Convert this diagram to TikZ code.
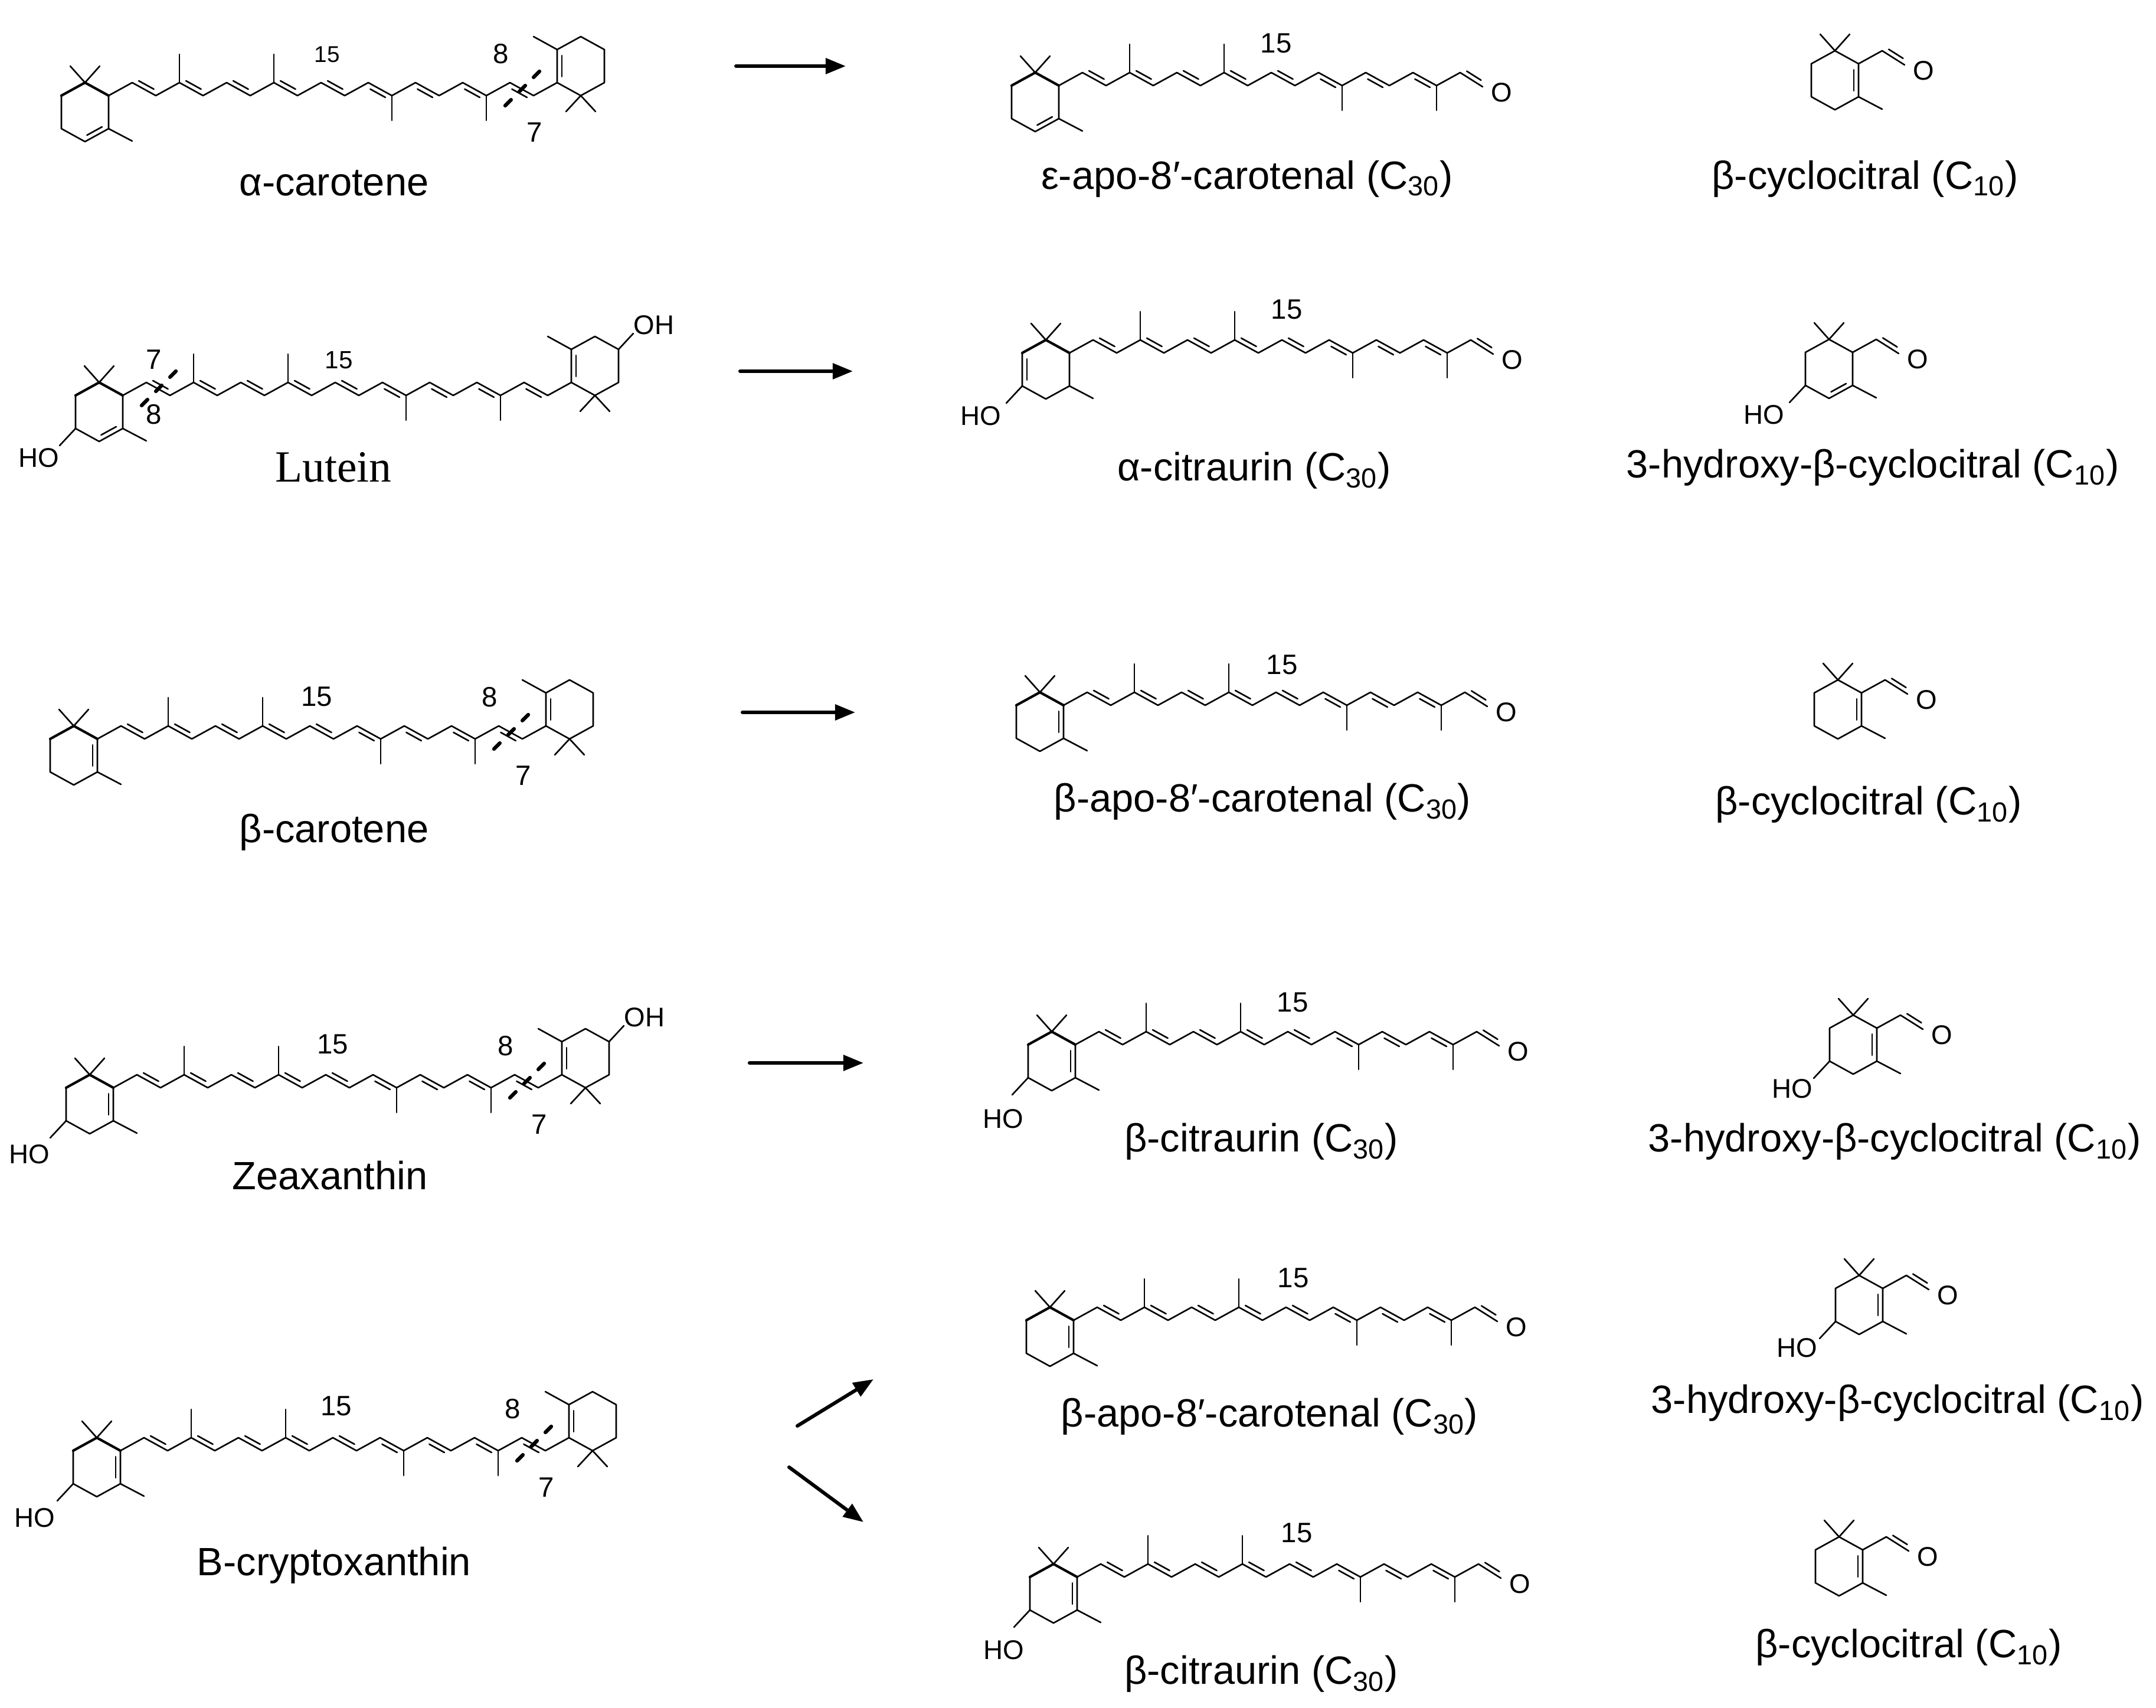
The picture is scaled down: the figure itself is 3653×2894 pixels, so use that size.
\documentclass[tikz,border=0pt]{standalone}
\usepackage{fontspec}
\setmainfont{Liberation Sans}
\newfontfamily\timesfont{Liberation Serif}
\usetikzlibrary{calc,arrows.meta}

\def\hx{40}\def\hy{22}\def\rw{80}\def\rd{22}\def\rv{56}\def\mup{48}\def\mdn{42}\def\dsep{0.08cm}

\newcommand{\polyene}[1]{%
  \foreach \i in {0,...,#1}{\coordinate (c\i) at ({\i*\hx},{-\hy*mod(\i,2)});}%
  \draw (c0) \foreach \i in {1,...,#1}{ -- (c\i)};}
\newcommand{\dup}[2]{\draw ($(#1)!0.18!(#2)!\dsep!90:(#2)$) -- ($(#2)!0.18!(#1)!\dsep!-90:(#1)$);}
\newcommand{\ddn}[2]{\draw ($(#1)!0.18!(#2)!\dsep!-90:(#2)$) -- ($(#2)!0.18!(#1)!\dsep!90:(#1)$);}
\newcommand{\methyls}{\draw (c3) -- ++(0,-\mup) (c7) -- ++(0,-\mup) (c12) -- ++(0,\mdn) (c16) -- ++(0,\mdn);}
\newcommand{\chaindbl}{\dup{c1}{c2}\dup{c3}{c4}\dup{c5}{c6}\dup{c7}{c8}\dup{c9}{c10}\ddn{c11}{c12}\ddn{c13}{c14}\ddn{c15}{c16}}
\newcommand{\aldehyde}[1]{%
  \coordinate (cO) at ($(c#1)+(38,24)$);
  \draw (c#1) -- (cO); \dup{c#1}{cO}
  \node[atom] (oxy) at ($(c#1)+(70,34)$) {O};}
\newcommand{\ringL}[1]{%
  \coordinate (r6) at (c0);
  \coordinate (r1) at ({-\rw/2},{-\rd});
  \coordinate (r2) at ({-\rw},0);
  \coordinate (r3) at ({-\rw},\rv);
  \coordinate (r4) at ({-\rw/2},{\rv+\rd});
  \coordinate (r5) at (0,\rv);
  \draw (r2) -- (r3) -- (r4) -- (r5) -- (r6);
  \draw[#1] (r2) -- (r1) -- (r6);
  \draw (r1) -- ++(-25,-28) (r1) -- ++(25,-28) (r5) -- ++(40,21);}
\newcommand{\ringR}[1]{%
  \coordinate (s6) at (c#1);
  \coordinate (s5) at ($(s6)+(0,-\rv)$);
  \coordinate (s4) at ($(s6)+({\rw/2},{-\rv-\rd})$);
  \coordinate (s3) at ($(s6)+(\rw,-\rv)$);
  \coordinate (s2) at ($(s6)+(\rw,0)$);
  \coordinate (s1) at ($(s6)+({\rw/2},\rd)$);
  \draw (s6) -- (s5) -- (s4) -- (s3) -- (s2) -- (s1) -- cycle;
  \dup{s5}{s6}
  \draw (s5) -- ++(-40,-22) (s1) -- ++(-25,27) (s1) -- ++(25,27);}
\newcommand{\hoL}[2]{\draw (r3) -- ++(-27,29); \node[atom] (ho) at ($(r3)+(#1,#2)$) {HO};}
\newcommand{\ohR}{\draw (s3) -- ++(25,-27); \node[atom] (oh) at ($(s3)+(60,-41)$) {OH};}
\newcommand{\cutbond}[2]{\coordinate (cm) at ($(#1)!0.5!(#2)$);
  \draw[cutline] ($(cm)+(30,-30)$) -- ($(cm)+(-30,30)$);}

\begin{document}
\begin{tikzpicture}[x=0.01cm, y=-0.01cm, line width=0.75pt, line cap=round, line join=round,
  heavy/.style={line width=1.2pt},
  thin/.style={},
  cutline/.style={line width=1.8pt, dash pattern=on 0.14cm off 0.2cm},
  atom/.style={inner sep=0pt, font=\fontsize{13}{15}\selectfont},
  num/.style={inner sep=0pt, font=\fontsize{13.5}{16}\selectfont},
  lbl/.style={inner sep=0pt, font=\fontsize{19}{22}\selectfont},
  arr/.style={line width=1.7pt, -{Triangle[length=0.34cm,width=0.26cm]}}]
\useasboundingbox[fill=white] (0,0) rectangle (3653,2894);

\begin{scope}[shift={(184,162)}]
  \polyene{19} \methyls \chaindbl \ddn{c17}{c18}
  \ringL{heavy} \dup{r4}{r5}
  \ringR{19}
  \cutbond{c17}{c18}
  \node[num, font=\fontsize{11}{13}\selectfont] (n15a) at ($(c9)+(10,-48)$) {15};
  \node[num] (n8a) at ($(cm)+(-35,-60)$) {8};
  \node[num] (n7a) at ($(cm)+(22,73)$) {7};
\end{scope}
\begin{scope}[shift={(1794,145)}]
  \polyene{17} \methyls \chaindbl \aldehyde{17}
  \ringL{heavy} \dup{r4}{r5}
  \node[num] (n15b) at ($(c9)+(8,-50)$) {15};
\end{scope}
\begin{scope}[shift={(3149,108)}]
  \polyene{1} \aldehyde{1}
  \ringL{thin} \dup{r5}{r6}
\end{scope}

\begin{scope}[shift={(208,670)}]
  \polyene{19} \methyls \chaindbl \ddn{c17}{c18}
  \ringL{heavy} \dup{r4}{r5} \hoL{-62}{50}
  \ringR{19} \ohR
  \cutbond{c1}{c2}
  \node[num, font=\fontsize{12}{14}\selectfont] (n15c) at ($(c9)+(6,-38)$) {15};
  \node[num] (n7c) at ($(cm)+(-7,-50)$) {7};
  \node[num] (n8c) at ($(cm)+(-7,43)$) {8};
\end{scope}
\begin{scope}[shift={(1812,598)}]
  \polyene{17} \methyls \chaindbl \aldehyde{17}
  \ringL{heavy} \dup{r2}{r3} \hoL{-70}{51}
  \node[num] (n15d) at ($(c9)+(8,-52)$) {15};
\end{scope}
\begin{scope}[shift={(3139,597)}]
  \polyene{1} \aldehyde{1}
  \ringL{thin} \dup{r4}{r5} \hoL{-70}{50}
\end{scope}

\begin{scope}[shift={(165,1252)}]
  \polyene{19} \methyls \chaindbl \ddn{c17}{c18}
  \ringL{heavy} \dup{r5}{r6}
  \ringR{19}
  \cutbond{c17}{c18}
  \node[num] (n15e) at ($(c9)+(12,-50)$) {15};
  \node[num] (n8e) at ($(cm)+(-35,-60)$) {8};
  \node[num] (n7e) at ($(cm)+(22,73)$) {7};
\end{scope}
\begin{scope}[shift={(1802,1195)}]
  \polyene{17} \methyls \chaindbl \aldehyde{17}
  \ringL{heavy} \dup{r5}{r6}
  \node[num] (n15f) at ($(c9)+(10,-47)$) {15};
\end{scope}
\begin{scope}[shift={(3154,1174)}]
  \polyene{1} \aldehyde{1}
  \ringL{thin} \dup{r5}{r6}
\end{scope}

\begin{scope}[shift={(192,1843)}]
  \polyene{19} \methyls \chaindbl \ddn{c17}{c18}
  \ringL{heavy} \dup{r5}{r6} \hoL{-62}{57}
  \ringR{19} \ohR
  \cutbond{c17}{c18}
  \node[num] (n15g) at ($(c9)+(12,-52)$) {15};
  \node[num] (n8g) at ($(cm)+(-35,-60)$) {8};
  \node[num] (n7g) at ($(cm)+(22,73)$) {7};
\end{scope}
\begin{scope}[shift={(1822,1770)}]
  \polyene{17} \methyls \chaindbl \aldehyde{17}
  \ringL{heavy} \dup{r5}{r6} \hoL{-42}{70}
  \node[num] (n15h) at ($(c9)+(8,-50)$) {15};
\end{scope}
\begin{scope}[shift={(3180,1742)}]
  \polyene{1} \aldehyde{1}
  \ringL{thin} \dup{r5}{r6} \hoL{-63}{47}
\end{scope}

\begin{scope}[shift={(204,2458)}]
  \polyene{19} \methyls \chaindbl \ddn{c17}{c18}
  \ringL{heavy} \dup{r5}{r6} \hoL{-65}{58}
  \ringR{19}
  \cutbond{c17}{c18}
  \node[num] (n15i) at ($(c9)+(6,-54)$) {15};
  \node[num] (n8i) at ($(cm)+(-35,-60)$) {8};
  \node[num] (n7i) at ($(cm)+(22,73)$) {7};
\end{scope}
\begin{scope}[shift={(1819,2237)}]
  \polyene{17} \methyls \chaindbl \aldehyde{17}
  \ringL{heavy} \dup{r5}{r6}
  \node[num] (n15j) at ($(c9)+(12,-50)$) {15};
\end{scope}
\begin{scope}[shift={(1825,2672)}]
  \polyene{17} \methyls \chaindbl \aldehyde{17}
  \ringL{heavy} \dup{r5}{r6} \hoL{-44}{68}
  \node[num] (n15k) at ($(c9)+(12,-53)$) {15};
\end{scope}
\begin{scope}[shift={(3190,2183)}]
  \polyene{1} \aldehyde{1}
  \ringL{thin} \dup{r5}{r6} \hoL{-65}{45}
\end{scope}
\begin{scope}[shift={(3156,2626)}]
  \polyene{1} \aldehyde{1}
  \ringL{thin} \dup{r5}{r6}
\end{scope}

\node[lbl] (acar) at (566,310) {α-carotene};
\node[lbl] (eapo) at (2113,303) {ε-apo-8′-carotenal (C\textsubscript{30})};
\node[lbl] (cyc1) at (3160,303) {β-cyclocitral (C\textsubscript{10})};
\node[lbl, font=\timesfont\fontsize{21.5}{25}\selectfont] (lut) at (565,792) {Lutein};
\node[lbl] (acit) at (2125,797) {α-citraurin (C\textsubscript{30})};
\node[lbl] (hcyc1) at (3173,792) {3-hydroxy-β-cyclocitral (C\textsubscript{10})};
\node[lbl] (bcar) at (566,1410) {β-carotene};
\node[lbl] (bapo1) at (2139,1358) {β-apo-8′-carotenal (C\textsubscript{30})};
\node[lbl] (cyc2) at (3166,1363) {β-cyclocitral (C\textsubscript{10})};
\node[lbl] (zea) at (559,1992) {Zeaxanthin};
\node[lbl] (bcit1) at (2137,1934) {β-citraurin (C\textsubscript{30})};
\node[lbl] (hcyc2) at (3210,1934) {3-hydroxy-β-cyclocitral (C\textsubscript{10})};
\node[lbl] (bcry) at (566,2652) {B-cryptoxanthin};
\node[lbl] (bapo2) at (2151,2400) {β-apo-8′-carotenal (C\textsubscript{30})};
\node[lbl] (hcyc3) at (3215,2377) {3-hydroxy-β-cyclocitral (C\textsubscript{10})};
\node[lbl] (bcit2) at (2137,2836) {β-citraurin (C\textsubscript{30})};
\node[lbl] (cyc3) at (3234,2791) {β-cyclocitral (C\textsubscript{10})};

\coordinate (a1) at (1247,112);  \coordinate (b1) at (1433,112);
\coordinate (a2) at (1254,629);  \coordinate (b2) at (1445,629);
\coordinate (a3) at (1258,1207); \coordinate (b3) at (1449,1207);
\coordinate (a4) at (1270,1801); \coordinate (b4) at (1463,1801);
\coordinate (a5) at (1351,2416); \coordinate (b5) at (1480,2337);
\coordinate (a6) at (1337,2486); \coordinate (b6) at (1463,2579);
\foreach \k in {1,...,6} \draw[arr] (a\k) -- (b\k);
\end{tikzpicture}
\end{document}
